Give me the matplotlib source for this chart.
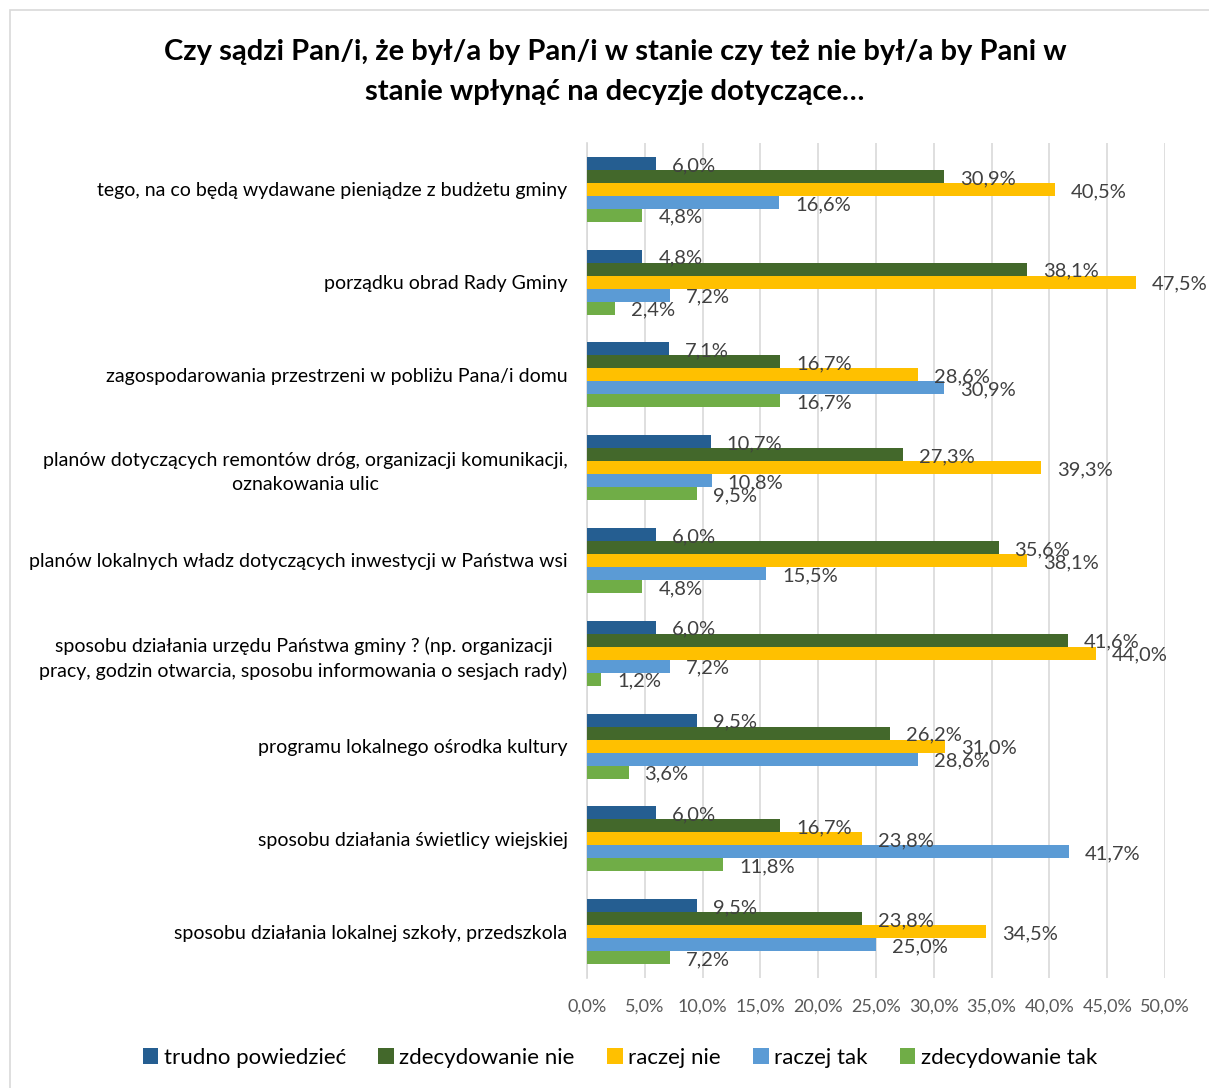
import matplotlib
matplotlib.use("Agg")
import matplotlib.pyplot as plt
from matplotlib.patches import Rectangle
import numpy as np

plt.rcParams['font.family'] = ['Lato', 'DejaVu Sans']

categories = [
    "tego, na co będą wydawane pieniądze z budżetu gminy",
    "porządku obrad Rady Gminy",
    "zagospodarowania przestrzeni w pobliżu Pana/i domu",
    "planów dotyczących remontów dróg, organizacji komunikacji,\noznakowania ulic",
    "planów lokalnych władz dotyczących inwestycji w Państwa wsi",
    "sposobu działania urzędu Państwa gminy ? (np. organizacji\npracy, godzin otwarcia, sposobu informowania o sesjach rady)",
    "programu lokalnego ośrodka kultury",
    "sposobu działania świetlicy wiejskiej",
    "sposobu działania lokalnej szkoły, przedszkola",
]
series_names = ["trudno powiedzieć", "zdecydowanie nie", "raczej nie", "raczej tak", "zdecydowanie tak"]
trudno = [6.0, 4.8, 7.1, 10.7, 6.0, 6.0, 9.5, 6.0, 9.5]
zdec_nie = [30.9, 38.1, 16.7, 27.3, 35.6, 41.6, 26.2, 16.7, 23.8]
raczej_nie = [40.5, 47.5, 28.6, 39.3, 38.1, 44.0, 31.0, 23.8, 34.5]
raczej_tak = [16.6, 7.2, 30.9, 10.8, 15.5, 7.2, 28.6, 41.7, 25.0]
zdec_tak = [4.8, 2.4, 16.7, 9.5, 4.8, 1.2, 3.6, 11.8, 7.2]
ticks = [0, 5, 10, 15, 20, 25, 30, 35, 40, 45, 50]
colors = ["#255E91", "#43682B", "#FFC000", "#5B9BD5", "#70AD47"]

series = [trudno, zdec_nie, raczej_nie, raczej_tak, zdec_tak]

W, H = 1209, 1088
fig = plt.figure(figsize=(W / 100, H / 100), dpi=100)
fig.patch.set_facecolor("white")
fig.add_artist(Rectangle((10 / W, -0.01), 1.1, 1 - 10 / H + 0.01, transform=fig.transFigure,
                         fill=False, edgecolor="#D9D9D9", linewidth=1.2))

left, right, top, bottom = 587, 1165, 143, 978
ax = fig.add_axes([left / W, 1 - bottom / H, (right - left) / W, (bottom - top) / H])

n = len(categories)
bh = 0.14
y = np.arange(n)
for i, (vals, col) in enumerate(zip(series, colors)):
    pos = y + (i - 2) * bh
    ax.barh(pos, vals, height=bh, color=col, label=series_names[i], zorder=3)
    for p, v in zip(pos, vals):
        ax.annotate(f"{v:.1f}%".replace(".", ","), xy=(v, p), xytext=(16, -2),
                    textcoords="offset pixels", ha="left", va="center",
                    fontsize=14.5, color="#404040", zorder=4)

ax.set_ylim(n - 0.5, -0.5)
ax.set_xlim(0, 50)
ax.set_xticks(ticks)
ax.set_xticklabels([f"{t:.1f}%".replace(".", ",") for t in ticks], fontsize=13, color="#595959")
ax.set_yticks(y)
ax.set_yticklabels(categories, fontsize=14, color="#000000", linespacing=1.5,
                   multialignment="center")
ax.tick_params(axis="both", length=0)
ax.tick_params(axis="y", pad=14)
ax.tick_params(axis="x", pad=15)
ax.grid(axis="x", color="#D9D9D9", linewidth=1.2, zorder=0)
for s in ["top", "right", "bottom"]:
    ax.spines[s].set_visible(False)
ax.spines["left"].set_color("#D9D9D9")
ax.spines["left"].set_linewidth(1.2)

fig.text(615 / W, 1 - 52 / H, "Czy sądzi Pan/i, że był/a by Pan/i w stanie czy też nie był/a by Pani w",
         ha="center", va="center", fontsize=21, fontweight="bold")
fig.text(615 / W, 1 - 92 / H, "stanie wpłynąć na decyzje dotyczące…",
         ha="center", va="center", fontsize=21, fontweight="bold")

handles, labels = ax.get_legend_handles_labels()
fig.legend(handles, labels, loc="center", bbox_to_anchor=(620 / W, 1 - 1058 / H), ncol=5,
           frameon=False, fontsize=16, handlelength=0.7, handleheight=0.7,
           handletextpad=0.25, columnspacing=1.45)

fig.savefig("out.png", dpi=100)
